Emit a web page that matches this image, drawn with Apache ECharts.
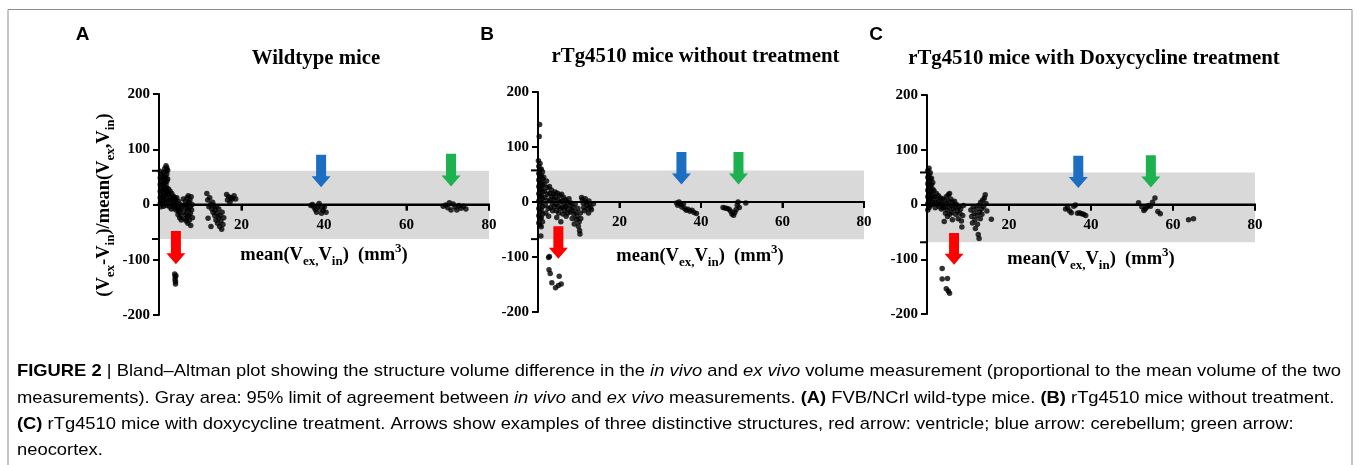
<!DOCTYPE html>
<html>
<head>
<meta charset="utf-8">
<script src="https://cdn.jsdelivr.net/npm/echarts@6/dist/echarts.min.js"></script>
<style>
html,body{margin:0;padding:0;background:#fff;}
#chart{width:1358px;height:465px;}
</style>
</head>
<body>
<div id="chart"></div>
<script>
// ---------------- DATA ----------------
var panelLetters = ['A', 'B', 'C'];
var panelTitles = ['Wildtype mice', 'rTg4510 mice without treatment', 'rTg4510 mice with Doxycycline treatment'];
var xTicks = [0, 20, 40, 60, 80];
var yTicks = [-200, -100, 0, 100, 200];

// 95% limits of agreement [x0, x1, lower, upper]
var bandA = [[0, 80, -62.5, 61]];
var bandB = [[0, 80, -67.5, 57.5]];
var bandC = [[0, 80, -69, 58.5]];

// arrows [x, yTop, yTip] : red (ventricle), blue (cerebellum), green (neocortex)
var arrowsA = [[4.1, -48, -108], [39.3, 90, 31], [70.8, 92, 32.5]];
var arrowsB = [[5.0, -44, -103], [35.2, 91, 32], [49.2, 91, 32]];
var arrowsC = [[6.6, -52, -110], [36.9, 89, 30], [54.6, 90, 31]];
var arrowColors = ['#ff0000', '#1b6ec2', '#1db14f'];

// Bland-Altman points [mean volume, % difference]
var pointsA = [
 [0.3,60],[0.3,48],[0.3,36],[0.3,24],[0.3,12],[0.3,2],[0.5,55],[0.5,42],[0.5,30],[0.5,18],[0.5,6],[0.5,-4],
 [0.8,50],[0.8,38],[0.8,26],[0.8,14],[0.8,3],[1.1,58],[1.1,45],[1.1,32],[1.1,20],[1.1,8],[1.1,-3],
 [1.4,65],[1.4,52],[1.4,40],[1.4,28],[1.4,15],[1.4,4],[1.7,70],[1.7,60],[1.7,48],[1.7,36],[1.7,24],[1.7,10],
 [1.9,66],[1.9,55],[1.9,42],[1.9,30],[1.9,18],[1.9,-2],[2.1,62],[2.1,46],[2.1,22],[2.1,6],
 [2.3,28],[2.4,18],[2.5,8],[2.6,-4],[2.7,24],[2.8,12],[2.9,2],[3.0,-8],[3.1,20],[3.2,10],[3.3,0],
 [3.5,15],[3.6,5],[3.7,-6],[3.8,12],[3.9,-2],[4.0,8],[4.1,-10],
 [4.3,12],[4.4,2],[4.5,-8],[4.6,-18],[4.7,6],[4.8,-4],[4.9,-14],[5.0,-24],[5.1,0],[5.2,-10],[5.3,-20],[5.4,-28],[5.5,-6],
 [5.9,10],[6.0,-2],[6.1,-14],[6.2,-26],[6.4,5],[6.5,-6],[6.5,-18],[6.6,-30],[6.8,12],[6.8,0],[6.9,-10],[6.9,-22],
 [7.0,-34],[7.1,16],[7.2,4],[7.2,-8],[7.3,-20],[7.4,-28],[7.5,8],[7.6,-4],[7.6,-16],[7.7,-38],[7.8,14],[7.9,-10],[8.0,0],[8.1,-24],
 [11.6,20],[11.8,8],[11.9,-25],[12.1,-4],[12.3,12],[12.5,0],[12.6,-40],[12.8,-8],[13.0,4],[13.1,-14],[13.3,-2],
 [13.5,-20],[13.6,-10],[13.8,-28],[13.9,-4],[14.1,-16],[14.2,-34],[14.4,-24],[14.5,-8],[14.7,-40],[14.8,-20],
 [15.0,-30],[15.2,-45],[15.3,-14],[15.5,-36],[15.7,-24],
 [16.4,18],[16.6,8],[16.9,14],[17.2,4],[17.5,12],[17.8,10],[18.2,16],[18.6,10],
 [3.8,-126],[3.9,-131],[3.9,-136],[4.0,-140],[4.0,-144],[4.1,-129],
 [36.8,-2],[37.2,0],[37.6,-5],[37.9,-9],[38.2,-14],[38.5,-3],[38.8,2],[39.1,-7],[39.4,-16],[39.8,-11],[40.1,-4],[40.5,-14],
 [68.9,-3],[69.5,-1],[70.0,-6],[70.4,3],[70.8,-10],[71.3,1],[71.8,-4],[72.2,-10],[72.7,-2],[73.2,-7],[73.8,-3],[74.4,-8]
];
var pointsB = [
 [0.4,141],[0.3,119],
 [0.1,75],[0.2,65],[0.2,52],[0.2,40],[0.2,28],[0.2,15],[0.2,2],[0.2,-12],[0.2,-25],[0.2,-38],
 [0.5,70],[0.5,58],[0.5,46],[0.5,34],[0.5,22],[0.5,10],[0.5,-4],[0.5,-18],[0.5,-30],[0.5,-42],
 [0.8,60],[0.8,48],[0.8,36],[0.8,24],[0.8,12],[0.8,0],[0.8,-14],[0.8,-28],[0.8,-45],
 [1.1,55],[1.1,42],[1.1,30],[1.1,18],[1.1,6],[1.1,-8],[1.1,-22],[1.1,-36],[0.7,-62],
 [1.4,45],[1.5,32],[1.6,20],[1.7,8],[1.8,-6],[1.9,-20],[2.1,38],[2.2,26],[2.3,14],[2.4,2],[2.5,-12],[2.6,-26],
 [2.8,28],[2.9,16],[3.0,4],[3.1,-10],[3.3,22],[3.4,10],[3.5,-2],[3.6,-16],[3.8,14],[3.9,4],[4.0,-8],
 [4.2,18],[4.3,8],[4.4,-4],[4.5,-16],[4.6,-28],[4.8,16],[4.9,4],[5.0,-8],[5.1,-20],[5.3,12],[5.4,0],[5.5,-12],[5.6,-36],
 [5.8,14],[5.9,2],[6.0,-10],[6.1,-22],[6.3,8],[6.4,-4],[6.5,-16],[6.7,4],[6.8,-8],[6.9,-26],[7.1,0],[7.2,-12],[7.3,-20],
 [7.6,6],[7.8,-6],[7.9,-18],[8.1,-2],[8.3,-14],[8.4,-30],[8.6,-10],[8.8,-22],[8.9,-40],[9.1,-4],[9.3,-18],[9.4,-32],
 [9.6,-26],[9.8,-12],[9.9,-44],[10.1,-36],[10.2,-52],[10.3,-58],[10.4,-20],[10.5,-30],
 [10.7,8],[10.9,4],[11.1,-2],[11.2,-10],[11.4,-16],[11.6,6],[11.8,0],[12.0,-6],[12.2,-12],[12.4,-20],[12.5,2],
 [12.7,-4],[12.9,-10],[13.1,-14],[13.6,-3],
 [2.6,-101],[2.8,-99],[2.7,-123],[3.0,-130],[3.4,-147],[4.3,-156],[5.0,-152],[5.2,-135],[5.7,-149],
 [34.0,-2],[34.3,-6],[34.6,0],[35.0,-4],[35.3,-9],[35.7,-3],[36.0,-12],[36.4,-15],[36.8,-13],[37.3,-17],[37.8,-15],[38.3,-19],[38.9,-21],
 [45.4,-10],[45.9,-11],[46.4,-12],[46.9,-13],[47.3,-17],[47.6,-22],[48.0,-24],[48.3,-19],[48.6,-14],[48.9,-6],[49.1,0],[49.4,-10],[51.0,-2]
];
var pointsC = [
 [0.2,62],[0.2,50],[0.2,38],[0.2,26],[0.2,14],[0.2,2],[0.2,-10],[0.5,66],[0.5,54],[0.5,42],[0.5,30],[0.5,18],[0.5,6],[0.5,-6],
 [0.8,58],[0.8,46],[0.8,34],[0.8,22],[0.8,10],[0.8,-2],[1.1,48],[1.1,36],[1.1,24],[1.1,12],[1.1,0],[1.4,40],[1.4,28],[1.4,16],[1.4,4],
 [1.7,25],[1.8,14],[1.9,4],[2.0,-6],[2.3,20],[2.4,10],[2.5,0],[2.8,16],[2.9,6],[3.0,-4],[3.3,12],[3.4,2],[3.5,-8],[3.8,10],[3.9,0],[4.0,-6],
 [4.2,-31],[4.3,8],[4.4,-4],[4.5,-16],[4.7,14],[4.8,2],[4.9,-10],[5.0,-22],[5.2,18],[5.3,6],[5.4,-6],[5.5,20],[5.6,-18],
 [5.8,10],[5.9,-2],[6.0,-14],[6.2,-28],[6.3,4],[6.4,-8],
 [6.7,6],[6.9,-6],[7.0,-18],[7.2,0],[7.4,-12],[7.6,-26],[7.8,-4],[8.0,-16],[8.2,-8],[8.4,-30],[8.5,-41],[8.7,-20],[8.9,-2],
 [10.7,-10],[10.9,-22],[11.1,-34],[11.3,-4],[11.5,-16],[11.7,-28],[11.8,-44],[12.0,-8],[12.2,-20],[12.3,-36],[12.5,-55],
 [12.6,-2],[12.7,-62],[12.8,-14],[13.0,-26],[13.1,4],[13.3,-8],[13.4,-18],[13.6,8],[13.8,-4],[14.0,12],[14.2,18],[14.4,2],[14.6,-12],
 [15.7,-27],
 [3.7,-117],[3.7,-136],[5.0,-135],[4.7,-154],[5.5,-162],[5.2,-158],
 [33.8,-8],[34.3,-6],[34.8,-12],[35.2,-15],[35.8,-3],[36.2,-1],[36.7,-16],[37.2,-15],[37.7,-17],[38.2,-18],[38.7,-20],
 [51.6,3],[52.4,-4],[52.9,-11],[53.2,-8],[53.6,-5],[54.0,-2],[54.5,-3],[55.0,4],[55.6,12],[56.3,-13],[56.9,-17],
 [63.8,-28],[65.0,-26]
];

// ---------------- STYLE / LAYOUT ----------------
var SERIF = "'Liberation Serif', 'Times New Roman', serif";
var SANS = "'Liberation Sans', Arial, sans-serif";
var grids = [
  {left: 159, top: 94, width: 330, height: 221},
  {left: 538, top: 92, width: 326, height: 220},
  {left: 927, top: 95, width: 328, height: 219}
];
var bands = [bandA, bandB, bandC];
var arrows = [arrowsA, arrowsB, arrowsC];
var points = [pointsA, pointsB, pointsC];

var xAxes = [], yAxes = [], series = [];
for (var i = 0; i < 3; i++) {
  xAxes.push({
    type: 'value', gridIndex: i, min: xTicks[0], max: xTicks[xTicks.length - 1], interval: 20, z: 10,
    offset: -grids[i].height / 2,
    axisLine: {show: true, onZero: false, lineStyle: {color: '#000', width: 2}},
    axisTick: {show: true, length: 6, lineStyle: {color: '#000', width: 2}},
    axisLabel: {showMinLabel: false, margin: 13, color: '#000', fontFamily: SERIF, fontWeight: 'bold', fontSize: 15},
    splitLine: {show: false}
  });
  yAxes.push({
    type: 'value', gridIndex: i, min: yTicks[0], max: yTicks[yTicks.length - 1], interval: 100, z: 10,
    axisLine: {show: true, onZero: false, lineStyle: {color: '#000', width: 2}},
    axisTick: {show: true, length: 6, lineStyle: {color: '#000', width: 2}},
    axisLabel: {margin: 9, color: '#000', fontFamily: SERIF, fontWeight: 'bold', fontSize: 15},
    splitLine: {show: false}
  });
  // gray 95% limits-of-agreement band, zero line, limit ticks and x ticks (all filled shapes)
  series.push({
    type: 'custom', xAxisIndex: i, yAxisIndex: i, z: 1, silent: true, clip: false,
    data: bands[i], encode: {x: [0, 1], y: [2, 3]},
    renderItem: function (params, api) {
      var tl = api.coord([api.value(0), api.value(3)]);
      var br = api.coord([api.value(1), api.value(2)]);
      var z0 = api.coord([api.value(0), 0]);
      var z1 = api.coord([api.value(1), 0]);
      var kids = [
        {type: 'rect', z2: 0, shape: {x: tl[0], y: tl[1], width: br[0] - tl[0], height: br[1] - tl[1]}, style: {fill: '#d9d9d9'}},
        {type: 'rect', z2: 10, shape: {x: z0[0] - 1, y: z0[1] - 1, width: z1[0] - z0[0] + 2, height: 2}, style: {fill: '#000'}},
        {type: 'rect', z2: 10, shape: {x: tl[0] - 7, y: tl[1] - 1, width: 7, height: 2}, style: {fill: '#000'}},
        {type: 'rect', z2: 10, shape: {x: tl[0] - 7, y: br[1] - 1, width: 7, height: 2}, style: {fill: '#000'}}
      ];
      for (var t = 1; t < xTicks.length; t++) {
        var p = api.coord([xTicks[t], 0]);
        kids.push({type: 'rect', z2: 10, shape: {x: p[0] - 1, y: p[1], width: 2, height: 6}, style: {fill: '#000'}});
      }
      return {type: 'group', children: kids};
    }
  });
  series.push({
    type: 'scatter', xAxisIndex: i, yAxisIndex: i, z: 4, silent: true,
    data: points[i], symbolSize: 5.5, itemStyle: {color: '#000'}
  });
  series.push({
    type: 'custom', xAxisIndex: i, yAxisIndex: i, z: 5, silent: true,
    data: arrows[i], encode: {x: 0, y: [1, 2]},
    renderItem: function (params, api) {
      var top = api.coord([api.value(0), api.value(1)]);
      var tip = api.coord([api.value(0), api.value(2)]);
      var cx = top[0], sw = 5, hw = 9.5, hl = 11;
      var hy = tip[1] - hl;
      return {type: 'polygon', shape: {points: [
        [cx - sw, top[1]], [cx + sw, top[1]], [cx + sw, hy], [cx + hw, hy], [cx, tip[1]], [cx - hw, hy], [cx - sw, hy]
      ]}, style: {fill: arrowColors[params.dataIndex]}};
    }
  });
}

var xNameRich = {
  m: {fontFamily: SERIF, fontWeight: 'bold', fontSize: 18.5, lineHeight: 26, color: '#000'},
  s: {fontFamily: SERIF, fontWeight: 'bold', fontSize: 13, lineHeight: 13, verticalAlign: 'bottom', color: '#000'},
  p: {fontFamily: SERIF, fontWeight: 'bold', fontSize: 13, lineHeight: 13, verticalAlign: 'top', color: '#000'}
};
var xNameText = '{m|mean(V}{s|ex,}{m|V}{s|in}{m|)  (mm}{p|3}{m|)}';
var xNamePos = [[324, 255], [700, 256.5], [1091, 259]];
var titlePos = [[316, 59], [695.5, 57], [1094, 59]];
var letterPos = [[82.5, 34.5], [487, 35], [876, 35]];

var graphics = [];
// frame
graphics.push({type: 'polyline', silent: true, shape: {points: [[8, 466], [8, 9.5], [1352, 9.5], [1352, 466]]},
  style: {stroke: '#8c8c8c', lineWidth: 1, fill: null}});
for (var k = 0; k < 3; k++) {
  graphics.push({type: 'text', x: letterPos[k][0], y: letterPos[k][1], style: {text: panelLetters[k],
    font: 'bold 19px ' + SANS, fill: '#000', align: 'center', verticalAlign: 'middle'}});
  graphics.push({type: 'text', x: titlePos[k][0], y: titlePos[k][1], style: {text: panelTitles[k],
    font: 'bold 20.8px ' + SERIF, fill: '#000', align: 'center', verticalAlign: 'middle'}});
  graphics.push({type: 'text', x: xNamePos[k][0], y: xNamePos[k][1], style: {text: xNameText, rich: xNameRich,
    align: 'center', verticalAlign: 'middle'}});
}
// y-axis name (panel A only)
graphics.push({type: 'text', x: 104, y: 205, rotation: Math.PI / 2, style: {
  text: '{m|(V}{s|ex}{m|-V}{s|in}{m|)/mean(V}{s|ex}{m|,V}{s|in}{m|)}', rich: xNameRich,
  align: 'center', verticalAlign: 'middle'}});

// caption
var capRich = {
  n: {fontFamily: SANS, fontSize: 17, color: '#231f20'},
  b: {fontFamily: SANS, fontSize: 17, fontWeight: 'bold', color: '#231f20'},
  i: {fontFamily: SANS, fontSize: 17, fontStyle: 'italic', color: '#231f20'}
};
var capLines = [
  '{b|FIGURE 2}{n| | Bland–Altman plot showing the structure volume difference in the }{i|in vivo}{n| and }{i|ex vivo}{n| volume measurement (proportional to the mean volume of the two}',
  '{n|measurements). Gray area: 95% limit of agreement between }{i|in vivo}{n| and }{i|ex vivo}{n| measurements. }{b|(A)}{n| FVB/NCrl wild-type mice. }{b|(B)}{n| rTg4510 mice without treatment.}',
  '{b|(C)}{n| rTg4510 mice with doxycycline treatment. Arrows show examples of three distinctive structures, red arrow: ventricle; blue arrow: cerebellum; green arrow:}',
  '{n|neocortex.}'
];
var capY = [371, 398, 424.5, 450];
for (var c = 0; c < capLines.length; c++) {
  graphics.push({type: 'text', x: 17, y: capY[c], scaleX: 1.08, style: {text: capLines[c], rich: capRich, align: 'left', verticalAlign: 'middle'}});
}

var chart = echarts.init(document.getElementById('chart'), null, {renderer: 'canvas'});
chart.setOption({
  backgroundColor: '#fff',
  animation: false,
  grid: grids,
  xAxis: xAxes,
  yAxis: yAxes,
  series: series,
  graphic: graphics
});
</script>
</body>
</html>
